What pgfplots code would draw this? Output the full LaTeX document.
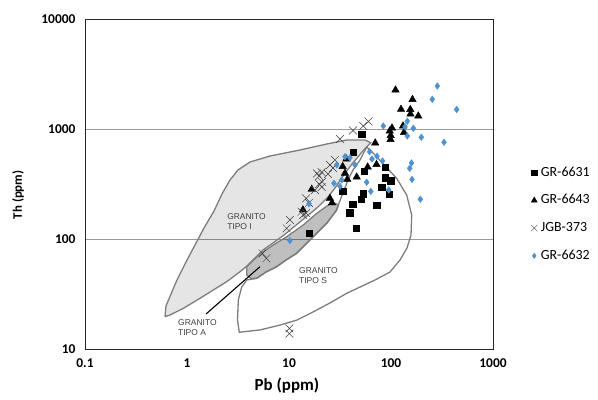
\documentclass[border=0pt]{standalone}
\usepackage{pgfplots}
\pgfplotsset{compat=1.18}
\usepackage{fontspec}
\setmainfont{Carlito}
\newfontfamily\arialf{Liberation Sans}
\definecolor{diamblue}{RGB}{79,146,208}
\definecolor{outl}{RGB}{125,125,125}
\begin{document}
\begin{tikzpicture}
\path[use as bounding box] (0,0) rectangle (598bp,400bp);
\begin{axis}[
  at={(85bp,51bp)}, anchor=south west,
  scale only axis, width=408bp, height=330bp,
  xmode=log, ymode=log,
  xmin=0.1, xmax=1000, ymin=10, ymax=10000,
  xtick={0.1,1,10,100,1000}, xticklabels={0.1,1,10,100,1000},
  ytick={10,100,1000,10000}, yticklabels={10,100,1000,10000},
  xminorticks=false, yminorticks=false,
  major tick length=0pt, minor tick length=0pt,
  ymajorgrids, grid style={color=black!40, line width=0.8bp},
  axis line style={black!85, line width=0.8bp},
  /pgf/number format/assume math mode=true,
  ticklabel style={font=\fontsize{13.5}{14}\selectfont\bfseries},
  xticklabel style={yshift=-6bp},
  yticklabel style={xshift=-6bp},
  xlabel={Pb (ppm)}, ylabel={Th (ppm)},
  xlabel style={font=\fontsize{17}{18}\selectfont\bfseries, at={(axis description cs:0.495,-0.11)}, anchor=center},
  ylabel style={font=\fontsize{13}{14}\selectfont\bfseries, at={(axis description cs:-0.164,0.467)}, anchor=center},
  legend style={at={(axis description cs:1.093,0.556)}, anchor=north west, draw=none, fill=none, inner sep=0pt,
    font=\fontsize{14}{15}\selectfont, row sep=13.7bp,
    nodes={inner sep=0.5bp, text height=10bp, text depth=3bp},
    /tikz/every odd column/.style={column sep=3bp}},
  legend cell align=left,
  legend image code/.code={\draw[mark repeat=2,mark phase=2,mark options={scale=0.8}] plot coordinates {(0bp,0bp)(4bp,0bp)(8bp,0bp)};},
]
% Granito tipo I
\addplot[forget plot, draw=outl, line width=1.3bp, fill=black, fill opacity=0.1] coordinates {
(0.609,19.66)(0.622,24.58)(0.697,31.62)(0.798,42.4)(0.978,61.8)(1.198,88.2)(1.468,125.9)(1.839,179.7)
(2.203,256.6)(2.640,343.9)(3.162,424.0)(4.147,501.2)(6.512,568.2)(12.82,644.5)(23.43,730.5)(36.79,794.3)
(55.6,794.3)(63.2,750.8)(51.95,617.9)(41.47,480.6)(33.83,373.9)(28.25,290.8)(24.13,240.9)(19.24,195.4)
(14.68,158.5)(11.45,131.3)(8.93,108.7)(6.968,91.9)(5.56,79.4)(4.642,67.2)(3.875,56.8)(3.308,50.4)
(2.450,40.9)(1.811,34.4)(1.341,28.9)(0.920,23.4)(0.681,20.4)(0.609,19.66)};
% Granito tipo S
\addplot[forget plot, draw=outl, line width=1.3bp] coordinates {
(57.8,686)(69.7,580)(84.1,481)(113.7,356)(142.5,251)(159.6,165.3)(157.1,108.7)(143.5,82.8)(122.5,64.4)
(97.8,50.1)(69.7,42.4)(49.7,36.6)(36.8,32.1)(25.2,26.2)(17.19,21.7)(11.9,18.3)(8.163,16.5)(5.195,14.9)
(3.256,14.2)(3.127,18.3)(3.184,27.9)(3.438,36.6)(3.849,42.4)(4.824,43.9)(5.951,50.1)(7.574,56.0)
(9.346,64.4)(11.9,74.1)(16.07,97.9)(23.43,138.9)(29.36,183.5)(30.44,203.8)(33.8,261.9)(37.9,343.9)
(42.4,424)(49.7,522.6)(57.8,686)};
% Granito tipo A
\addplot[forget plot, draw=outl, line width=1.3bp, fill=black, fill opacity=0.25] coordinates {
(3.849,56.0)(3.849,47.1)(4.242,43.8)(4.824,43.9)(5.951,50.1)(7.574,56.0)(9.346,64.4)(11.90,74.1)
(16.07,97.9)(23.43,138.9)(29.36,183.5)(30.44,203.8)(28.25,211.1)(25.2,208.1)(18.70,171.2)(13.81,134.1)
(9.496,104.9)(7.018,88.2)(5.598,76.6)(4.467,64.4)(3.849,56.0)};
% pointer
\addplot[forget plot, black, line width=1.1bp] coordinates {(5.195,56.0)(1.536,20.8)};
\node[anchor=north west, inner sep=0pt, align=left, font=\arialf\fontsize{8.5}{10}\selectfont, text=black!75] at (2.47,172) {GRANITO\\TIPO I};
\node[anchor=north west, inner sep=0pt, align=left, font=\arialf\fontsize{8.5}{10}\selectfont, text=black!75] at (12.53,55.7) {GRANITO\\TIPO S};
\node[anchor=north west, inner sep=0pt, align=left, font=\arialf\fontsize{8.5}{10}\selectfont, text=black!75] at (0.816,18.7) {GRANITO\\TIPO A};
% GR-6631
\addplot[only marks, mark=square*, mark size=3.2bp, draw=black, fill=black] coordinates {
(51.6,901)(42.7,614)(87.3,451)(54.3,415)(87.3,362)(99.3,339)(81.1,294)(95.5,257)(33.6,273)(53.5,259)
(50.8,229)(42.0,208)(72.4,204)(39.4,174)(45.4,125)(15.8,113)};
\addlegendentry{GR-6631}
% GR-6643
\addplot[only marks, mark=triangle*, mark size=4.3bp, draw=black, fill=black] coordinates {
(110.7,2262)(162.5,1854)(125.3,1511)(154.6,1504)(155.3,1369)(185.2,1313)(102.3,1021)(97.1,959)(99.3,873)
(98.9,803)(131.2,1065)(134.1,930)(70.0,746)(72.1,476)(59.1,451)(46.1,366)(36.6,534)(33.6,456)(35.4,396)
(37.3,349)(16.7,283)(25.2,234)(26.4,213)(13.7,184)};
\addlegendentry{GR-6643}
% JGB-373
\addplot[only marks, mark=x, mark size=5.5bp, draw=black!75, line width=0.5bp] coordinates {
(60.2,1170)(53.5,1065)(42.4,969)(31.6,811)(28.2,523)(25.2,471)(27.0,442)(20.9,406)(18.8,394)(24.1,390)
(19.8,374)(21.1,330)(19.8,316)(20.9,297)(18.0,279)(14.7,234)(15.7,213)(13.3,177)(13.8,165)(14.7,172)
(10.2,149)(9.5,125)(5.5,74)(6.0,66.8)(10.1,15.4)(10.1,13.8)};
\addlegendentry{JGB-373}
% GR-6632
\addplot[only marks, mark=diamond*, mark size=3.3bp, draw=diamblue, fill=diamblue] coordinates {
(284.5,2460)(254,1862)(440.6,1504)(331,757)(198.2,841)(144.5,864)(165.5,1015)(144.5,1177)(137.2,1049)
(84.1,1065)(158.8,491)(152.5,439)(160.6,348)(193.8,230)(95,279)(63.4,271)(57.8,328)(82.6,512)(72.9,565)
(65.1,534)(61.7,622)(39.6,548)(44.4,471)(31.6,301)(27.6,321)(29.4,471)(32.9,344)(15.7,209)(10.2,96.6)(35.4,560)};
\addlegendentry{GR-6632}
\end{axis}
\end{tikzpicture}
\end{document}
